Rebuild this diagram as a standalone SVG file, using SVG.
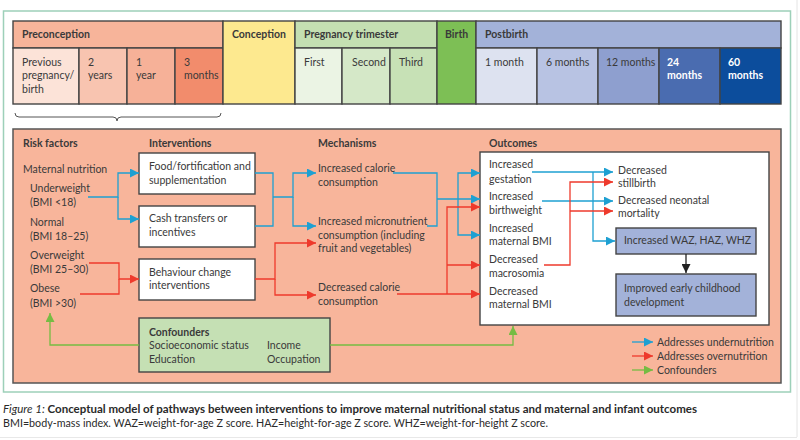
<svg xmlns="http://www.w3.org/2000/svg" width="800" height="440" viewBox="0 0 800 440">
<defs>
<style>
text{font-family:Lato,"Open Sans","Liberation Sans",sans-serif;font-size:10.5px;fill:#3a3a3a}
.b{font-weight:bold}
.w{fill:#ffffff;font-weight:bold}
.cell{stroke:#444;stroke-width:1.4}
.box{fill:#fff;stroke:#444;stroke-width:1.4}
.bl{fill:none;stroke:#1ea0d2;stroke-width:1.3}
.rd{fill:none;stroke:#ee3a2c;stroke-width:1.3}
.gr{fill:none;stroke:#76bc43;stroke-width:1.3}
.bk{fill:none;stroke:#222;stroke-width:1.3}
</style>
<marker id="ab" viewBox="0 0 10 10" refX="10" refY="5" markerWidth="9" markerHeight="9" markerUnits="userSpaceOnUse" orient="auto"><path d="M0,0L10,5L0,10z" fill="#1ea0d2"/></marker>
<marker id="ar" viewBox="0 0 10 10" refX="10" refY="5" markerWidth="9" markerHeight="9" markerUnits="userSpaceOnUse" orient="auto"><path d="M0,0L10,5L0,10z" fill="#ee3a2c"/></marker>
<marker id="ag" viewBox="0 0 10 10" refX="10" refY="5" markerWidth="9" markerHeight="9" markerUnits="userSpaceOnUse" orient="auto"><path d="M0,0L10,5L0,10z" fill="#76bc43"/></marker>
<marker id="ak" viewBox="0 0 10 10" refX="10" refY="5" markerWidth="9" markerHeight="9" markerUnits="userSpaceOnUse" orient="auto"><path d="M0,0L10,5L0,10z" fill="#222"/></marker>
</defs>
<rect x="0" y="0" width="800" height="440" fill="#fff"/>
<line x1="797" y1="0" x2="797" y2="437" stroke="#e4e4e4" stroke-width="1"/>
<line x1="0" y1="437.5" x2="797" y2="437.5" stroke="#e8e8e8" stroke-width="1"/>
<rect x="3.5" y="11" width="787" height="381" fill="#fff" stroke="#9dd0b9" stroke-width="1.5"/>

<g id="timeline">
<g id="preconception">
<rect class="cell" x="13" y="21" width="210" height="27" fill="#f7b49a"/>
<text class="b" x="22" y="38">Preconception</text>
<rect class="cell" x="13" y="48" width="66" height="56" fill="#fce3d8"/>
<text x="22" y="65.5">Previous</text><text x="22" y="79">pregnancy/</text><text x="22" y="92.5">birth</text>
<rect class="cell" x="79" y="48" width="48" height="56" fill="#f8c4b0"/>
<text x="88" y="65.5">2</text><text x="88" y="79">years</text>
<rect class="cell" x="127" y="48" width="48" height="56" fill="#f6b198"/>
<text x="136" y="65.5">1</text><text x="136" y="79">year</text>
<rect class="cell" x="175" y="48" width="48" height="56" fill="#f28c6c"/>
<text x="184" y="65.5">3</text><text x="184" y="79">months</text>
</g>
<g id="conception">
<rect class="cell" x="223" y="21" width="72" height="83" fill="#fde98f"/>
<text class="b" x="232" y="38">Conception</text>
</g>
<g id="pregnancy">
<rect class="cell" x="295" y="21" width="142" height="27" fill="#c4dfb2"/>
<text class="b" x="304" y="38">Pregnancy trimester</text>
<rect class="cell" x="295" y="48" width="47" height="56" fill="#ebf4e4"/>
<text x="304" y="65.5">First</text>
<rect class="cell" x="342" y="48" width="48" height="56" fill="#d5e8c8"/>
<text x="352" y="65.5">Second</text>
<rect class="cell" x="390" y="48" width="47" height="56" fill="#c7e1b6"/>
<text x="399" y="65.5">Third</text>
</g>
<g id="birth">
<rect class="cell" x="437" y="21" width="39" height="83" fill="#7dbf55"/>
<text class="b" x="445" y="38">Birth</text>
</g>
<g id="postbirth">
<rect class="cell" x="476" y="21" width="305" height="27" fill="#a3b2d9"/>
<text class="b" x="485" y="38">Postbirth</text>
<rect class="cell" x="476" y="48" width="61" height="56" fill="#dde2f0"/>
<text x="485" y="65.5">1 month</text>
<rect class="cell" x="537" y="48" width="61" height="56" fill="#b8c3e3"/>
<text x="546" y="65.5">6 months</text>
<rect class="cell" x="598" y="48" width="61" height="56" fill="#8e9fcf"/>
<text x="606" y="65.5">12 months</text>
<rect class="cell" x="659" y="48" width="61" height="56" fill="#4a6cb0"/>
<text class="w" x="667" y="65.5">24</text><text class="w" x="667" y="79">months</text>
<rect class="cell" x="720" y="48" width="61" height="56" fill="#0c4d9c"/>
<text class="w" x="728" y="65.5">60</text><text class="w" x="728" y="79">months</text>
</g>
<path id="brace" d="M15,113 q0,4 4,4 L113,117 q4,0 4,4 q0,-4 4,-4 L217,117 q4,0 4,-4" fill="none" stroke="#555" stroke-width="1"/>
</g>

<rect id="panel" x="13" y="129" width="768" height="254" fill="#f8b59b" stroke="#555" stroke-width="1.5"/>

<g id="riskfactors">
<text class="b" x="23" y="147">Risk factors</text>
<text x="23" y="173">Maternal nutrition</text>
<text x="30" y="192">Underweight</text><text x="30" y="206">(BMI &lt;18)</text>
<text x="30" y="226">Normal</text><text x="30" y="240">(BMI 18–25)</text>
<text x="30" y="259">Overweight</text><text x="30" y="273">(BMI 25–30)</text>
<text x="30" y="292">Obese</text><text x="30" y="307">(BMI &gt;30)</text>
</g>

<g id="interventions">
<text class="b" x="149" y="147">Interventions</text>
<g id="food"><rect class="box" x="139" y="153" width="116" height="41"/>
<text x="149" y="170">Food/fortification and</text><text x="149" y="184">supplementation</text></g>
<g id="cash"><rect class="box" x="139" y="206" width="116" height="41"/>
<text x="149" y="222">Cash transfers or</text><text x="149" y="236">incentives</text></g>
<g id="behaviour"><rect class="box" x="139" y="259" width="116" height="41"/>
<text x="149" y="276">Behaviour change</text><text x="149" y="289">interventions</text></g>
</g>

<g id="mechanisms">
<text class="b" x="318" y="147">Mechanisms</text>
<text x="318" y="172">Increased calorie</text><text x="318" y="186">consumption</text>
<text x="318" y="225">Increased micronutrient</text><text x="318" y="239">consumption (including</text><text x="318" y="252">fruit and vegetables)</text>
<text x="318" y="291">Decreased calorie</text><text x="318" y="305">consumption</text>
</g>

<g id="outcomes">
<text class="b" x="489" y="147">Outcomes</text>
<rect class="box" x="480" y="152" width="289" height="173"/>
<text x="489" y="168">Increased</text><text x="489" y="183">gestation</text>
<text x="489" y="200">Increased</text><text x="489" y="214">birthweight</text>
<text x="489" y="232">Increased</text><text x="489" y="245">maternal BMI</text>
<text x="489" y="263">Decreased</text><text x="489" y="277">macrosomia</text>
<text x="489" y="295">Decreased</text><text x="489" y="308">maternal BMI</text>
<text x="618" y="174">Decreased</text><text x="618" y="187">stillbirth</text>
<text x="618" y="204">Decreased neonatal</text><text x="618" y="217">mortality</text>
<g id="waz"><rect x="616" y="228" width="140" height="26" fill="#a3b2d9" stroke="#444" stroke-width="1.4"/>
<text x="624" y="244">Increased WAZ, HAZ, WHZ</text></g>
<g id="ecd"><rect x="616" y="274" width="140" height="42" fill="#a3b2d9" stroke="#444" stroke-width="1.4"/>
<text x="624" y="292">Improved early childhood</text><text x="624" y="306">development</text></g>
</g>

<g id="confounders">
<rect x="139" y="318" width="191" height="54" fill="#c5e0b4" stroke="#444" stroke-width="1.4"/>
<text class="b" x="149" y="336">Confounders</text>
<text x="149" y="349">Socioeconomic status</text><text x="149" y="363">Education</text>
<text x="267" y="349">Income</text><text x="267" y="363">Occupation</text>
</g>

<g id="connectors">
<path class="bl" d="M88,197 H118 V173 H139" marker-end="url(#ab)"/>
<path class="bl" d="M118,197 V219 H139" marker-end="url(#ab)"/>
<path class="bl" d="M255,173 H273 V226 H255"/>
<path class="bl" d="M273,197 H293 V173 H316" marker-end="url(#ab)"/>
<path class="bl" d="M293,197 V226 H316" marker-end="url(#ab)"/>
<path class="bl" d="M393,173 H437 V226 H427"/>
<path class="bl" d="M437,199 H480" marker-end="url(#ab)"/>
<path class="bl" d="M458,199 V173 H480" marker-end="url(#ab)"/>
<path class="bl" d="M458,199 V235 H480" marker-end="url(#ab)"/>
<path class="rd" d="M89,263 H119 V279 H139" marker-end="url(#ar)"/>
<path class="rd" d="M80,294 H119 V279"/>
<path class="rd" d="M255,279 H275 V243 H316" marker-end="url(#ar)"/>
<path class="rd" d="M275,279 V295 H316" marker-end="url(#ar)"/>
<path class="rd" d="M397,294 H480" marker-end="url(#ar)"/>
<path class="rd" d="M447,294 V207 H480" marker-end="url(#ar)"/>
<path class="rd" d="M447,265 H480" marker-end="url(#ar)"/>
<path class="bl" d="M532,172 H613" marker-end="url(#ab)"/>
<path class="bl" d="M593,172 V241 H615" marker-end="url(#ab)"/>
<path class="bl" d="M542,201 H613" marker-end="url(#ab)"/>
<path class="rd" d="M544,265 H570 V182 H613" marker-end="url(#ar)"/>
<path class="rd" d="M570,211 H613" marker-end="url(#ar)"/>
<path class="bk" d="M686,254 V273" marker-end="url(#ak)"/>
<path class="gr" d="M139,345 H50 V313" marker-end="url(#ag)"/>
<path class="gr" d="M330,345 H513 V326" marker-end="url(#ag)"/>
</g>

<g id="legend">
<path class="bl" d="M632,342 H653" marker-end="url(#ab)"/>
<path class="rd" d="M632,356 H653" marker-end="url(#ar)"/>
<path class="gr" d="M632,370 H653" marker-end="url(#ag)"/>
<text x="657" y="346">Addresses undernutrition</text>
<text x="657" y="360">Addresses overnutrition</text>
<text x="657" y="374">Confounders</text>
</g>

<g id="caption">
<text x="3" y="413" textLength="694" lengthAdjust="spacingAndGlyphs" style="font-size:11px;fill:#2a2a2a"><tspan font-style="italic">Figure 1:</tspan><tspan font-weight="bold"> Conceptual model of pathways between interventions to improve maternal nutritional status and maternal and infant outcomes</tspan></text>
<text x="3" y="427" textLength="545" lengthAdjust="spacingAndGlyphs" style="font-size:10.5px;fill:#2a2a2a">BMI=body-mass index. WAZ=weight-for-age Z score. HAZ=height-for-age Z score. WHZ=weight-for-height Z score.</text>
</g>
</svg>
